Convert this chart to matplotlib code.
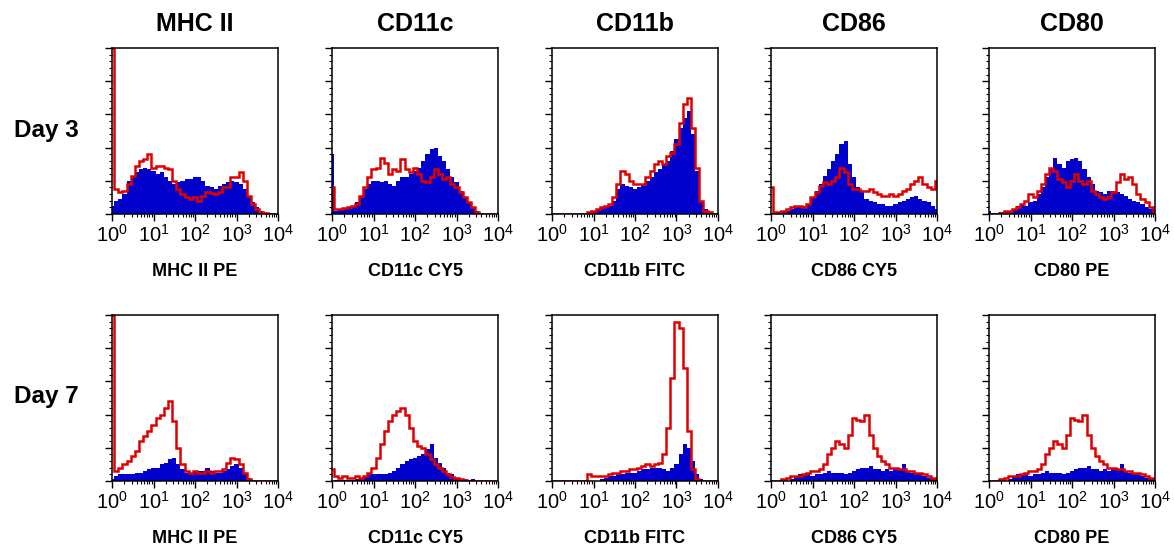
import numpy as np
import matplotlib.pyplot as plt
from matplotlib.ticker import LogLocator, MultipleLocator, NullFormatter

plt.rcParams['font.family'] = ['Liberation Sans', 'DejaVu Sans']

# channel grid: log10 of fluorescence, one bin every 0.1 decade
log_bins = [0.0, 0.1, 0.2, 0.3, 0.4, 0.5, 0.6, 0.7, 0.8, 0.9,
            1.0, 1.1, 1.2, 1.3, 1.4, 1.5, 1.6, 1.7, 1.8, 1.9,
            2.0, 2.1, 2.2, 2.3, 2.4, 2.5, 2.6, 2.7, 2.8, 2.9,
            3.0, 3.1, 3.2, 3.3, 3.4, 3.5, 3.6, 3.7, 3.8, 3.9, 4.0]

markers = ["MHC II", "CD11c", "CD11b", "CD86", "CD80"]
x_labels = ["MHC II PE", "CD11c CY5", "CD11b FITC", "CD86 CY5", "CD80 PE"]
days = ["Day 3", "Day 7"]

# % of max counts, blue = filled histogram, red = outline
day3_mhc_blue = [5, 8, 9, 12, 20, 22, 25, 27, 28, 27, 26, 24, 25, 22, 20, 18, 19, 20, 21, 21,
                 22, 22, 20, 17, 16, 15, 17, 18, 19, 20, 19, 18, 15, 11, 7, 4, 2, 0.5, 0, 0, 0]
day3_mhc_red = [100, 15, 13, 14, 18, 23, 29, 32, 33, 36, 28, 29, 29, 28, 27, 20, 15, 12, 10.5, 9,
                10, 8, 11, 13, 12.5, 12, 13, 16, 16, 22, 22, 25, 20, 11, 6, 3, 1.5, 0.5, 0, 0, 0]
day3_cd11c_blue = [36, 2, 3, 3, 4, 5, 7, 10, 15, 18, 20, 20, 19, 20, 18, 17, 20, 22, 22, 24,
                   26, 28, 32, 36, 39, 40, 35, 32, 27, 22, 19, 14, 10, 7, 4, 2, 0.5, 0, 0, 0, 0]
day3_cd11c_red = [16, 3, 3, 3.5, 4, 5, 6, 11, 16, 22, 27, 28, 34, 31, 24, 27, 26, 33, 27, 25,
                  28, 24, 20, 19, 22, 27, 24, 21, 22, 18, 16, 13, 10, 7, 4, 1.5, 0.3, 0, 0, 0, 0]
day3_cd11b_blue = [0, 0, 0, 0, 0, 0, 0, 0, 0, 1, 2, 3, 4, 4, 5, 8, 15, 18, 17, 16,
                   15, 16, 18, 20, 22, 25, 27, 30, 32, 38, 45, 52, 58, 62, 48, 26, 8, 3, 1, 0, 0]
day3_cd11b_red = [0, 0, 0, 0, 0, 0, 0, 0, 0, 1, 2, 3, 4, 5, 6, 10, 18, 26, 24, 20,
                  18, 18, 18, 22, 26, 30, 32, 30, 35, 37, 42, 55, 66, 70, 52, 28, 8, 2, 1, 0, 0]
day3_cd86_blue = [0.5, 1, 1, 2, 2, 3, 4, 4, 5, 6, 10, 14, 18, 23, 27, 32, 36, 42, 44, 30,
                  22, 16, 13, 9, 8, 7, 6, 6, 5, 5, 6, 7, 8, 9, 10, 11, 9, 8, 7, 5, 3]
day3_cd86_red = [16, 1, 1, 2, 3, 4, 5, 5, 4, 6, 10, 13, 17, 19, 18, 20, 22, 28, 25, 18,
                 15, 15, 14, 14, 15, 13, 12, 11, 11, 12, 11, 12, 14, 15, 18, 20, 22, 18, 16, 15, 20]
day3_cd80_blue = [2, 0.5, 0.5, 1, 1, 2, 3, 5, 6, 5, 7, 8, 12, 16, 22, 27, 34, 30, 28, 32,
                  33, 34, 32, 27, 22, 18, 14, 13, 12, 14, 14, 13, 12, 11, 9, 8, 7, 6, 4, 3, 1]
day3_cd80_red = [0, 0, 0, 0.5, 2, 2, 3, 4, 6, 8, 12, 10, 14, 18, 24, 28, 26, 21, 19, 16,
                 20, 24, 20, 18, 20, 14, 12, 10, 9, 10, 13, 19, 24, 21, 22, 18, 12, 9, 7, 4, 2]

day7_mhc_blue = [1, 3, 4, 4, 4, 4, 5, 5, 6, 7, 8, 8, 10, 11, 13, 14, 10, 7, 5, 5,
                 6, 6, 6, 8, 6, 5, 5, 6, 7, 9, 10, 8, 4, 2, 0.5, 0, 0, 0, 0, 0, 0]
day7_mhc_red = [100, 6, 8, 10, 12, 15, 18, 24, 27, 30, 34, 38, 40, 44, 48, 36, 20, 10, 6, 5,
                6, 5, 5, 6, 5, 6, 6, 7, 11, 14, 13, 10, 5, 1, 0, 0, 0, 0, 0, 0, 0]
day7_cd11c_blue = [0, 0.5, 0.5, 0.5, 0.5, 0.5, 1, 2, 3, 4, 4, 4, 4, 4, 5, 6, 8, 10, 12, 13,
                   14, 15, 16, 19, 22, 14, 11, 8, 5, 4, 2, 1, 1, 0.5, 1, 0, 0, 0, 0, 0, 0]
day7_cd11c_red = [7, 3, 2, 3, 2, 2, 3, 2, 3, 5, 8, 14, 22, 30, 36, 40, 42, 44, 40, 32,
                  24, 21, 20, 16, 13, 10, 8, 6, 4, 2.5, 2, 1, 0.5, 0, 0, 0, 0, 0, 0, 0, 0]
day7_cd11b_blue = [0, 0, 0, 0, 0, 0, 0, 0, 0, 0, 0, 0, 1, 2, 3, 3, 4, 4, 5, 5,
                   5, 6, 7, 7, 8, 8, 8, 7, 6, 8, 10, 16, 22, 20, 12, 4, 1, 0, 0, 0, 0]
day7_cd11b_red = [0, 0, 0, 0, 0, 0, 0, 0, 0, 4, 3, 3, 3, 3, 4, 5, 5, 6, 6, 7,
                  7, 8, 9, 10, 9, 10, 11, 16, 32, 62, 96, 92, 68, 30, 7, 1, 0, 0, 0, 0, 0]
day7_cd86_blue = [0, 0, 0, 0, 0, 1, 3, 4, 4, 4, 3, 4, 4, 5, 6, 5, 5, 5, 4, 5,
                  6, 7, 8, 8, 9, 7, 7, 6, 7, 6, 8, 7, 10, 6, 5, 5, 4, 3, 2, 1, 1]
day7_cd86_red = [0, 0, 0, 1.5, 2, 3, 3, 3, 4, 5, 6, 6, 7, 10, 16, 20, 24, 22, 20, 28,
                 38, 37, 36, 40, 28, 20, 15, 12, 10, 8, 8, 7, 7, 6, 6, 5, 5, 4, 3, 2, 2]
day7_cd80_blue = [0, 0, 0, 0, 0, 1, 3, 4, 4, 4, 3, 4, 4, 5, 6, 5, 5, 5, 4, 5,
                  6, 7, 8, 8, 9, 7, 7, 6, 7, 6, 8, 7, 10, 6, 5, 5, 4, 3, 2, 1, 1]
day7_cd80_red = [0, 0, 0, 1.5, 2, 3, 3, 3, 4, 5, 6, 6, 7, 10, 16, 20, 24, 22, 20, 28,
                 38, 37, 36, 40, 28, 20, 15, 12, 10, 8, 8, 7, 7, 6, 6, 5, 5, 4, 3, 2, 2]

panels = [
    [(day3_mhc_blue, day3_mhc_red), (day3_cd11c_blue, day3_cd11c_red),
     (day3_cd11b_blue, day3_cd11b_red), (day3_cd86_blue, day3_cd86_red),
     (day3_cd80_blue, day3_cd80_red)],
    [(day7_mhc_blue, day7_mhc_red), (day7_cd11c_blue, day7_cd11c_red),
     (day7_cd11b_blue, day7_cd11b_red), (day7_cd86_blue, day7_cd86_red),
     (day7_cd80_blue, day7_cd80_red)],
]

BLUE = "#0000cd"
RED = "#e00000"
W, H = 1174, 546
col_left = [112, 332, 552, 771, 989]
row_top = [48, 315]
size = 166

centers = np.array(log_bins)
edges = 10 ** np.append(centers - 0.05, centers[-1] + 0.05)

fig = plt.figure(figsize=(W / 100, H / 100), dpi=100)

for r, row in enumerate(panels):
    for c, (blue, red) in enumerate(row):
        ax = fig.add_axes([col_left[c] / W, 1 - (row_top[r] + size) / H, size / W, size / H])
        ax.stairs(blue, edges, fill=True, color=BLUE, linewidth=0)
        ax.stairs(red, edges, color=RED, linewidth=1.8)
        ax.set_xscale("log")
        ax.set_xlim(1, 1e4)
        ax.set_ylim(0, 100)
        ax.xaxis.set_major_locator(LogLocator(base=10, numticks=10))
        ax.xaxis.set_minor_locator(LogLocator(base=10, subs=np.arange(2, 10), numticks=10))
        ax.xaxis.set_minor_formatter(NullFormatter())
        ax.yaxis.set_major_locator(MultipleLocator(20))
        ax.yaxis.set_minor_locator(MultipleLocator(4))
        ax.set_yticklabels([])
        ax.tick_params(which="major", direction="out", length=5, width=1,
                       labelsize=14.5, pad=2, top=False, right=False)
        ax.tick_params(which="minor", direction="out", length=2.5, width=0.8,
                       top=False, right=False)
        for spine in ax.spines.values():
            spine.set_linewidth(1.1)
        ax.text(0.5, -0.345, x_labels[c], transform=ax.transAxes, ha="center",
                va="center", fontsize=13, fontweight="bold")
        if r == 0:
            ax.text(0.5, 1.145, markers[c], transform=ax.transAxes, ha="center",
                    va="center", fontsize=18, fontweight="bold")

fig.text(46 / W, 1 - 131 / H, days[0], ha="center", va="center", fontsize=17.5, fontweight="bold")
fig.text(46 / W, 1 - 397 / H, days[1], ha="center", va="center", fontsize=17.5, fontweight="bold")

fig.savefig("out.png", dpi=100)
